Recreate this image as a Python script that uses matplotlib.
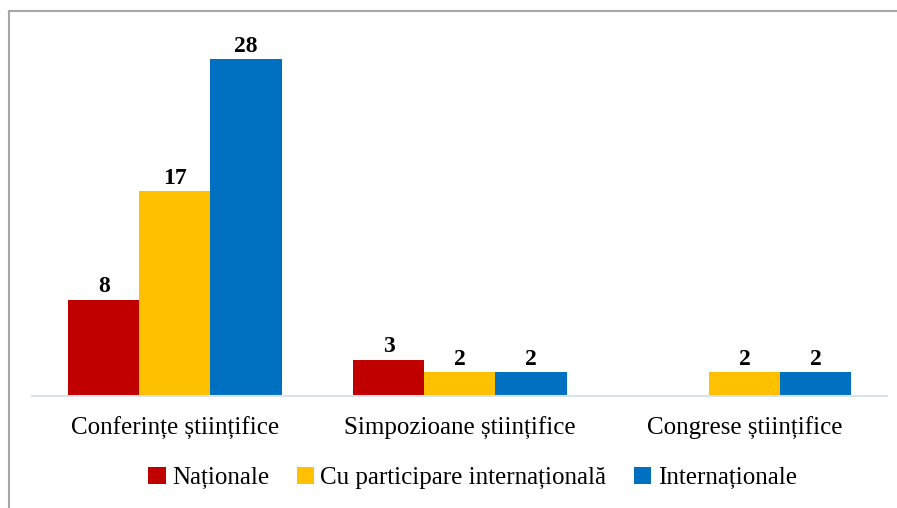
import numpy as np
import matplotlib.pyplot as plt
from matplotlib.lines import Line2D

plt.rcParams['font.family'] = ['Liberation Serif', 'DejaVu Serif']

categorii = ['Conferințe științifice', 'Simpozioane științifice', 'Congrese științifice']
serii = ['Naționale', 'Cu participare internațională', 'Internaționale']
nationale = [8, 3, None]
cu_participare = [17, 2, 2]
internationale = [28, 2, 2]
culori = ['#C00000', '#FFC000', '#0070C0']

fig = plt.figure(figsize=(8.97, 5.08), dpi=100)
ax = fig.add_axes([0.0362, 0.2205, 0.9526, 0.7106])

x = np.arange(len(categorii))
w = 0.25
for i, (vals, nume) in enumerate(zip([nationale, cu_participare, internationale], serii)):
    xs = [xx + (i - 1) * w for xx, v in zip(x, vals) if v is not None]
    ys = [v for v in vals if v is not None]
    bars = ax.bar(xs, ys, w, color=culori[i], label=nume)
    for b, v in zip(bars, ys):
        ax.text(b.get_x() + b.get_width() / 2, v + 0.2, str(v), ha='center', va='bottom',
                fontsize=17, fontweight='bold')

ax.set_xlim(-0.5, 2.5)
ax.set_ylim(0, 30)
ax.set_yticks([])
ax.set_xticks(x)
ax.set_xticklabels(categorii, fontsize=18)
ax.tick_params(axis='x', length=0, pad=15)
for s in ['top', 'right', 'left']:
    ax.spines[s].set_visible(False)
ax.spines['bottom'].set_color('#D9E1F2')
ax.spines['bottom'].set_linewidth(1.5)

ax.legend(loc='center', bbox_to_anchor=(0.515, -0.227), ncol=3, frameon=False,
          fontsize=18, handlelength=0.7, handleheight=0.7, handletextpad=0.25,
          columnspacing=1.1)

# chenar (doar sus si stanga)
fig.add_artist(Line2D([8.5 / 897, 1], [1 - 10.5 / 508] * 2, color='#A6A6A6', lw=1.5))
fig.add_artist(Line2D([8.5 / 897] * 2, [0, 1 - 10.5 / 508], color='#A6A6A6', lw=1.5))

fig.savefig('out.png', dpi=100)
